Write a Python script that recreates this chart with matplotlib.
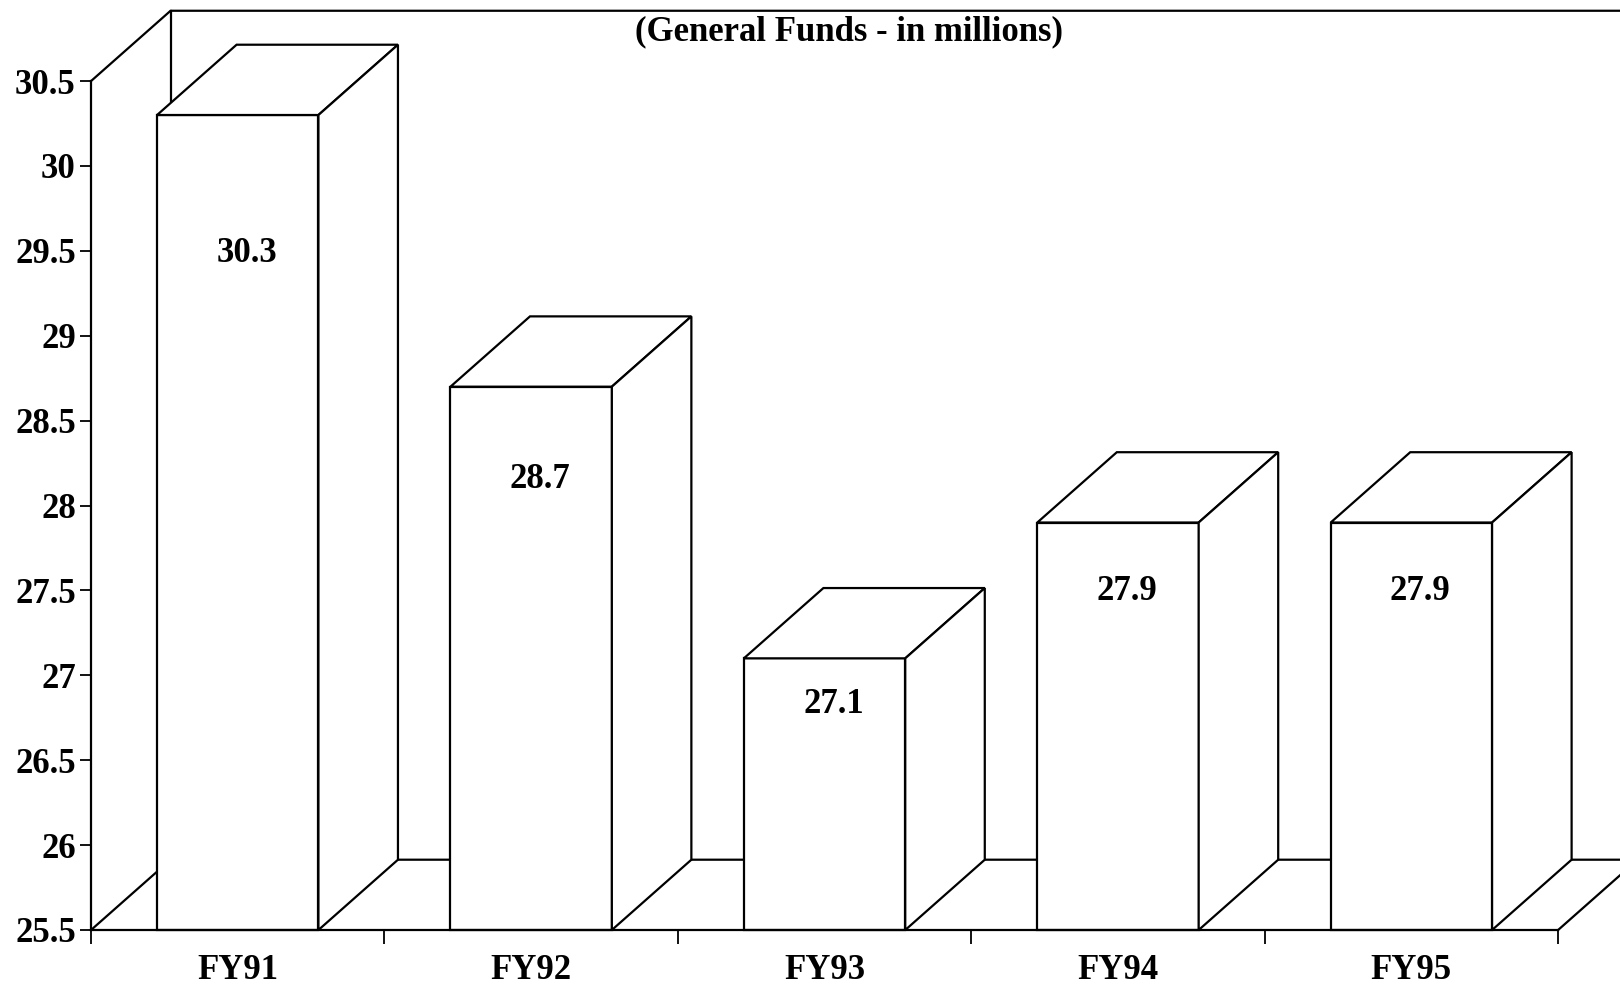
import matplotlib.pyplot as plt
from matplotlib.patches import Polygon

years = ['FY91', 'FY92', 'FY93', 'FY94', 'FY95']
funds = [30.3, 28.7, 27.1, 27.9, 27.9]
y_ticks = [25.5, 26, 26.5, 27, 27.5, 28, 28.5, 29, 29.5, 30, 30.5]
y_tick_labels = ['25.5', '26', '26.5', '27', '27.5', '28', '28.5', '29', '29.5', '30', '30.5']

base, top = 25.5, 30.5
bar_w = 0.55
dx, dy = 0.271, 0.414   # depth offset of the fake 3d box
lw = 1.6

plt.rcParams['font.family'] = ['Liberation Serif', 'DejaVu Serif']
plt.rcParams['font.weight'] = 'bold'

fig = plt.figure(figsize=(16.2, 9.86), dpi=100)
ax = fig.add_axes([0.0562, 0.0568, 0.9056, 0.861])
x0, x1 = -0.5, len(years) - 0.5
ax.set_xlim(x0, x1)
ax.set_ylim(base, top)

line = dict(color='black', lw=lw, clip_on=False, zorder=1)
# back wall, left wall and floor edges
ax.plot([x0, x0 + dx, x1 + dx + 1], [top, top + dy, top + dy], **line)
ax.plot([x0 + dx, x0 + dx], [base + dy, top + dy], **line)
ax.plot([x0, x0 + dx, x1 + dx + 1], [base, base + dy, base + dy], **line)
ax.plot([x1, x1 + dx], [base, base + dy], **line)

for i, v in enumerate(funds):
    l, r = i - bar_w / 2, i + bar_w / 2
    faces = [
        [(l, base), (r, base), (r, v), (l, v)],
        [(l, v), (r, v), (r + dx, v + dy), (l + dx, v + dy)],
        [(r, base), (r + dx, base + dy), (r + dx, v + dy), (r, v)],
    ]
    for f in faces:
        ax.add_patch(Polygon(f, closed=True, facecolor='white', edgecolor='black',
                             lw=lw, clip_on=False, zorder=3, joinstyle='miter'))
    ax.text(i + 0.03, base + 0.83 * (v - base), f'{v}', ha='center', va='center',
            fontsize=25, fontweight='bold', zorder=5)

for s in ['top', 'right']:
    ax.spines[s].set_visible(False)
for s in ['left', 'bottom']:
    ax.spines[s].set_linewidth(lw)
    ax.spines[s].set_zorder(4)

ax.set_yticks(y_ticks, y_tick_labels)
ax.tick_params(axis='y', direction='out', length=8, width=1.3, labelsize=25, pad=3)
ax.set_xticks([x0 + k for k in range(len(years) + 1)], [''] * (len(years) + 1))
ax.set_xticks(range(len(years)), years, minor=True)
ax.tick_params(axis='x', which='major', direction='out', length=10, width=1.3)
ax.tick_params(axis='x', which='minor', length=0, labelsize=25, pad=17)
ax.set_facecolor('none')

fig.text(849 / 1620, 1 - 32 / 986, '(General Funds - in millions)', ha='center',
         va='center', fontsize=25, fontweight='bold')

fig.savefig('out.png', dpi=100)
